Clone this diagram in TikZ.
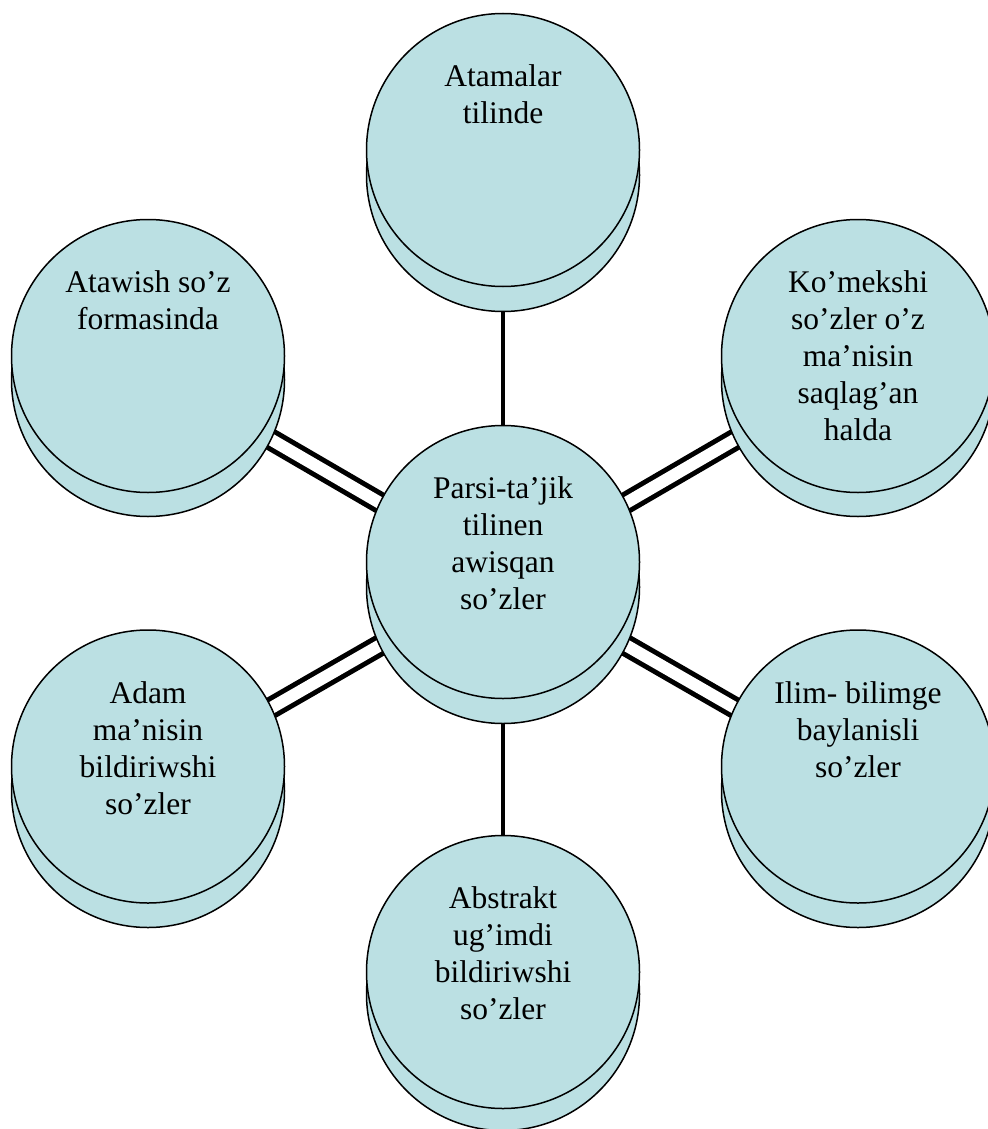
\documentclass[tikz,border=0pt]{standalone}
\usepackage{fontspec}
\setmainfont{Liberation Serif}
\usetikzlibrary{calc,backgrounds}
\definecolor{canfill}{RGB}{187,224,227}
\begin{document}
\begin{tikzpicture}[x=0.5pt,y=-0.5pt,
		disc/.style={circle,draw=black,line width=0.75pt,fill=canfill,minimum size=136.5pt,inner sep=0pt},
		disctext/.style={anchor=north,align=center,inner sep=0pt,font=\fontsize{15.75}{18.5}\selectfont},
		link/.style={line width=2.1pt},
		twinlink/.style={line width=2.5pt,double=white,double distance=6pt}]
			\useasboundingbox (0,0) rectangle (987,1129);
			% Mitte
			\node[disc] (cB) at (503,587) {};
			\node[disc] (c) at (503,562) {};
			\node[disctext] (cT) at (503,476.5) {Parsi-ta’jik\\tilinen\\awisqan\\so’zler};
			% oben
			\node[disc] (topB) at (503,175) {};
			\node[disc] (top) at (503,150) {};
			\node[disctext] (topT) at (503,64.5) {Atamalar\\tilinde};
			% oben links / rechts
			\node[disc] (tlB) at (148,380) {};
			\node[disc] (tl) at (148,356) {};
			\node[disctext] (tlT) at (148,270.5) {Atawish so’z\\formasinda};
			\node[disc] (trB) at (858,380) {};
			\node[disc] (tr) at (858,356) {};
			\node[disctext] (trT) at (858,270.5) {Ko’mekshi\\so’zler o’z\\ma’nisin\\saqlag’an\\halda};
			% unten links / rechts
			\node[disc] (blB) at (148,791) {};
			\node[disc] (bl) at (148,766.5) {};
			\node[disctext] (blT) at (148,681) {Adam\\ma’nisin\\bildiriwshi\\so’zler};
			\node[disc] (brB) at (858,791) {};
			\node[disc] (br) at (858,766.5) {};
			\node[disctext] (brT) at (858,681) {Ilim- bilimge\\baylanisli\\so’zler};
			% unten
			\node[disc] (botB) at (503,994) {};
			\node[disc] (bot) at (503,972) {};
			\node[disctext] (botT) at (503,886.5) {Abstrakt\\ug’imdi\\bildiriwshi\\so’zler};
			% Verbindungen hinter den Scheiben
			\begin{scope}[on background layer]
				\draw[link] (c) -- (top);
				\draw[link] (cB) -- (bot);
				\draw[twinlink] ($(c)!.5!(cB)$) -- ($(tl)!.5!(tlB)$);
				\draw[twinlink] ($(c)!.5!(cB)$) -- ($(tr)!.5!(trB)$);
				\draw[twinlink] ($(c)!.5!(cB)$) -- ($(bl)!.5!(blB)$);
				\draw[twinlink] ($(c)!.5!(cB)$) -- ($(br)!.5!(brB)$);
			\end{scope}
		\end{tikzpicture}
\end{document}
